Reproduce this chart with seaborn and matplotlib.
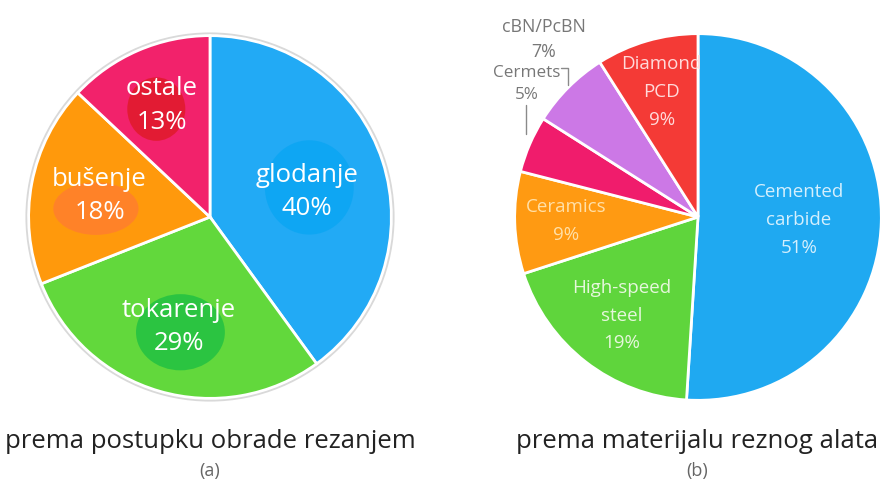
import matplotlib
matplotlib.use("Agg")
import numpy as np
import matplotlib.pyplot as plt
from matplotlib.patches import Ellipse, Circle
import seaborn as sns

# (a) po postupku obrade
postupci = ['glodanje', 'tokarenje', 'bušenje', 'ostale']
udio_postupci = [40, 29, 18, 13]
boje_postupci = ['#22aaf5', '#62d83c', '#ff990c', '#f2226b']
boje_mrlje = ['#0ba6f3', '#22c142', '#ff7f2e', '#e01a2a']

# (b) po materijalu alata
materijali = ['Cemented\ncarbide', 'High-speed\nsteel', 'Ceramics', 'Cermets', 'cBN/PcBN', 'Diamond\nPCD']
udio_materijali = [51, 19, 9, 5, 7, 9]
boje_materijali = ['#1fa9f1', '#5fd53c', '#ff9a12', '#f01c6c', '#cc78e6', '#f43a36']

naslovi = ['prema postupku obrade rezanjem', 'prema materijalu reznog alata']
oznake = ['(a)', '(b)']

sns.set_theme(style="white")
plt.rcParams['font.family'] = ['Open Sans', 'DejaVu Sans']

W, H = 882, 491
fig = plt.figure(figsize=(W / 100, H / 100), dpi=100)
fig.patch.set_facecolor('white')


def os_kruga(cx, cy, r):
    return fig.add_axes([(cx - r) / W, (H - cy - r) / H, 2 * r / W, 2 * r / H])


def sredina(w, d):
    kut = np.deg2rad((w.theta1 + w.theta2) / 2)
    return d * np.cos(kut), d * np.sin(kut)


# ---- lijevi ----
ax1 = os_kruga(210, 217, 185)
ax1.add_patch(Circle((0, 0), 1.01, facecolor='none', edgecolor='#d9d9d9', lw=2, zorder=0))
wedges1, _ = ax1.pie(udio_postupci, colors=boje_postupci, startangle=90, counterclock=False,
                     wedgeprops=dict(edgecolor='white', linewidth=2))
udaljenost1 = [0.56, 0.62, 0.62, 0.67]
pomak1 = [(0.0, -0.035), (0.0, -0.01), (0.0, 0.0), (0.0, 0.0)]
mrlje = [(0.015, 0.025, 0.49, 0.52), (0.01, -0.03, 0.49, 0.42),
         (-0.02, -0.07, 0.47, 0.29), (-0.03, -0.02, 0.32, 0.35)]
for w, ime, v, bm, d, (px1, py1), (ox, oy, ew, eh) in zip(wedges1, postupci, udio_postupci, boje_mrlje,
                                                           udaljenost1, pomak1, mrlje):
    x, y = sredina(w, d)
    x, y = x + px1, y + py1
    ax1.add_patch(Ellipse((x + ox, y + oy), ew, eh, facecolor=bm, edgecolor='none', alpha=0.85, zorder=3))
    ax1.text(x, y, f'{ime}\n{v}%', ha='center', va='center', color='white', fontsize=18.5,
             linespacing=1.45, zorder=4)
ax1.set_xlim(-1.02, 1.02)
ax1.set_ylim(-1.02, 1.02)
ax1.set_aspect('equal')
ax1.axis('off')

# ---- desni ----
ax2 = os_kruga(698, 217, 187)
wedges2, _ = ax2.pie(udio_materijali, colors=boje_materijali, startangle=90, counterclock=False,
                     wedgeprops=dict(edgecolor='white', linewidth=2))
unutra = {0: (0.55, '#d4effd'), 1: (0.68, '#e6f7dc'), 2: (0.72, '#ffe0a8'), 5: (0.71, '#ffdada')}
for i, (w, ime, v) in enumerate(zip(wedges2, materijali, udio_materijali)):
    if i in unutra:
        d, c = unutra[i]
        x, y = sredina(w, d)
        ax2.text(x, y, f'{ime}\n{v}%', ha='center', va='center', color=c, fontsize=13.5,
                 linespacing=1.7)

# vanjske oznake s linijama
px = 1 / 187
ex, ey = sredina(wedges2[4], 1.0)
ax2.plot([ex, ex, ex - 8 * px], [ey + 2 * px, ey + 20 * px, ey + 20 * px], color='#8a8a8a', lw=1,
         clip_on=False)
ax2.text(ex - 25 * px, ey + 49 * px, f'{materijali[4]}\n{udio_materijali[4]}%', ha='center',
         va='center', color='#777777', fontsize=12.8, linespacing=1.5, clip_on=False)
ex, ey = sredina(wedges2[3], 1.0)
ax2.plot([ex - 4 * px, ex - 4 * px], [ey + 10 * px, ey + 40 * px], color='#8a8a8a', lw=1, clip_on=False)
ax2.text(ex - 3 * px, ey + 61 * px, f'{materijali[3]}\n{udio_materijali[3]}%', ha='center',
         va='center', color='#777777', fontsize=12.3, linespacing=1.5, clip_on=False)
ax2.set_xlim(-1.02, 1.02)
ax2.set_ylim(-1.02, 1.02)
ax2.set_aspect('equal')
ax2.axis('off')

# naslovi
for cx, nasl, oz in zip([210, 697], naslovi, oznake):
    fig.text(cx / W, 1 - 441 / H, nasl, ha='center', va='center', fontsize=18.5, color='#222222')
    fig.text(cx / W, 1 - 471 / H, oz, ha='center', va='center', fontsize=13, color='#666666')

fig.savefig('out.png', dpi=100)
